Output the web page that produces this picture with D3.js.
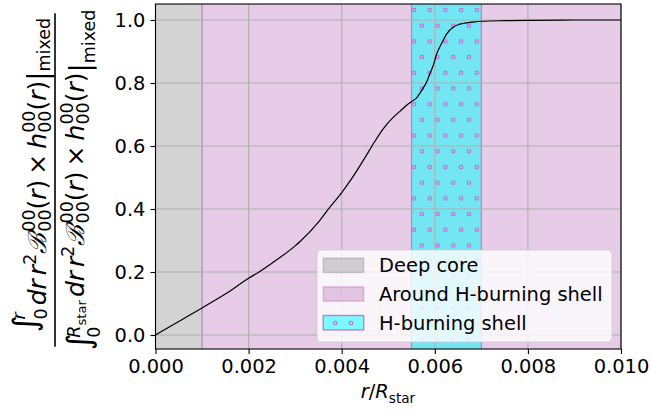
<!DOCTYPE html>
<html><head><meta charset="utf-8">
<script src="https://cdn.jsdelivr.net/npm/d3@7"></script>
<style>body{margin:0;background:#fff}svg{display:block}</style>
</head><body><svg id="c" width="651" height="414"></svg>
<script>
// ---- data ----
const rValues = [0,0.0005,0.001,0.0015,0.002,0.0022,0.0025,0.003,0.0031,0.0035,0.0037,0.004,0.0042,0.0045,0.0047,0.0049,0.0051,0.00525,0.0054,0.0055,0.00561,0.00572,0.00583,0.0059,0.00597,0.00604,0.0061,0.00615,0.00626,0.0064,0.0065,0.00661,0.0068,0.007,0.0075,0.008,0.009,0.010];
const fracValues = [0,0.043,0.086,0.130,0.180,0.198,0.228,0.283,0.296,0.358,0.397,0.452,0.493,0.563,0.612,0.656,0.690,0.710,0.730,0.741,0.753,0.777,0.805,0.832,0.857,0.892,0.912,0.927,0.957,0.978,0.985,0.989,0.993,0.996,0.998,0.999,1.0,1.0];
const xTicks = [0,0.002,0.004,0.006,0.008,0.010];
const xTickLabels = ["0.000","0.002","0.004","0.006","0.008","0.010"];
const yTicks = [0,0.2,0.4,0.6,0.8,1.0];
const yTickLabels = ["0.0","0.2","0.4","0.6","0.8","1.0"];
const regionNames = ["Deep core","Around H-burning shell","H-burning shell"];
const regionStart = [0,0.001,0.0055];
const regionEnd = [0.001,0.010,0.007];

const svg = d3.select("#c");
const FS = 19.44, FONT = "DejaVu Sans";
const L=155.5, R=621, T=4, B=349;
const x = d3.scaleLinear().domain([0,0.01]).range([L,R]);
const y = d3.scaleLinear().domain([-0.0444,1.0508]).range([B,T]);

const defs = svg.append("defs");
function dotPattern(id, ox, oy){
  const p = defs.append("pattern").attr("id",id).attr("patternUnits","userSpaceOnUse")
    .attr("x",ox-3.925).attr("y",oy-7.85).attr("width",15.7).attr("height",31.4);
  [[3.925,7.85],[11.775,23.55]].forEach(([cx,cy])=>p.append("circle").attr("cx",cx).attr("cy",cy).attr("r",1.7)
    .attr("fill","none").attr("stroke","#d05ccf").attr("stroke-width",1.1));
}
dotPattern("hatch",414,10);
dotPattern("hatchLeg",335.3,323);
defs.append("clipPath").attr("id","plot").append("rect").attr("x",L).attr("y",T).attr("width",R-L).attr("height",B-T);

const fills = [{c:"gray",o:0.35},{c:"purple",o:0.2},{c:"cyan",o:0.5}];
const pl = svg.append("g").attr("clip-path","url(#plot)");
regionNames.forEach((n,i)=>{
  const f = fills[i];
  pl.append("rect").attr("x",x(regionStart[i])).attr("y",T-2).attr("width",x(regionEnd[i])-x(regionStart[i])).attr("height",B-T+4)
    .attr("fill",f.c).attr("fill-opacity",f.o)
    .attr("stroke", i===2?"#c27ccb":f.c).attr("stroke-opacity", i===2?1:f.o).attr("stroke-width",1.2);
  if(i===2){
    pl.append("rect").attr("x",x(regionStart[i])+0.6).attr("y",T).attr("width",x(regionEnd[i])-x(regionStart[i])-1.2).attr("height",B-T)
      .attr("fill","url(#hatch)");
  }
});

// grid
const grid = svg.append("g").attr("stroke","#b0b0b0").attr("stroke-width",1.1);
xTicks.forEach(t=>grid.append("line").attr("x1",x(t)).attr("x2",x(t)).attr("y1",T).attr("y2",B));
yTicks.forEach(t=>grid.append("line").attr("x1",L).attr("x2",R).attr("y1",y(t)).attr("y2",y(t)));

// curve
const pts = rValues.map((r,i)=>[r,fracValues[i]]);
svg.append("path").datum(pts).attr("fill","none").attr("stroke","#000").attr("stroke-width",1.2)
  .attr("stroke-linejoin","round")
  .attr("d",d3.line().x(d=>x(d[0])).y(d=>y(d[1])).curve(d3.curveMonotoneX));

// axes
const xa = svg.append("g").attr("transform",`translate(0,${B})`).call(d3.axisBottom(x).tickValues(xTicks).tickFormat((d,i)=>xTickLabels[i]).tickSizeOuter(0).tickSize(5).tickPadding(5));
const ya = svg.append("g").attr("transform",`translate(${L},0)`).call(d3.axisLeft(y).tickValues(yTicks).tickFormat((d,i)=>yTickLabels[i]).tickSizeOuter(0).tickSize(5).tickPadding(5));
[xa,ya].forEach(a=>{a.select(".domain").remove();a.selectAll("line").attr("stroke","#000").attr("stroke-width",1.1);
  a.selectAll("text").attr("font-family",FONT).attr("font-size",FS).attr("fill","#000");});
svg.append("rect").attr("x",L).attr("y",T).attr("width",R-L).attr("height",B-T).attr("fill","none").attr("stroke","#000").attr("stroke-width",1.1);

// legend
const lg = svg.append("g");
lg.append("rect").attr("x",317).attr("y",250).attr("width",295).attr("height",92).attr("rx",4)
  .attr("fill","#fff").attr("fill-opacity",0.8).attr("stroke","#cccccc").attr("stroke-opacity",0.8);
regionNames.forEach((n,i)=>{
  const cy = 265.3 + i*28.7;
  const f = fills[i];
  lg.append("rect").attr("x",323.3).attr("y",cy-7.2).attr("width",40.4).attr("height",14.4)
    .attr("fill",f.c).attr("fill-opacity",f.o)
    .attr("stroke", i===2?"#c27ccb":f.c).attr("stroke-opacity", i===2?1:f.o).attr("stroke-width",1.4);
  if(i===2) lg.append("rect").attr("x",323.3).attr("y",cy-7.2).attr("width",40.4).attr("height",14.4).attr("fill","url(#hatchLeg)");
  lg.append("text").attr("x",379).attr("y",cy+6.8).attr("font-family",FONT).attr("font-size",FS).text(n);
});

// x label
const xl = svg.append("text").attr("y",398).attr("font-family",FONT).attr("font-size",FS).attr("text-anchor","middle").attr("x",388);
xl.append("tspan").attr("font-style","italic").text("r");
xl.append("tspan").text("/");
xl.append("tspan").attr("font-style","italic").text("R");
xl.append("tspan").attr("font-size",FS*0.7).attr("dy",5).text("star");

// y label (fraction), rotated
const FL = 25;
function buildExpr(g, items, size){
  let cx = 0;
  const sc = size*0.7;
  const mk = (t, opt={})=>g.append("text").attr("font-family",opt.fam||FONT).attr("font-size",opt.s||size)
      .attr("font-style",opt.it?"italic":"normal").attr("x",cx).attr("y",opt.dy||0).text(t);
  items.forEach(it=>{
    if(it.stack){
      const a = mk(it.stack[0],{s:sc,dy:it.sdy!=null?it.sdy:-size*0.45, it:it.sit});
      const b = mk(it.stack[1],{s:sc,dy:it.bdy!=null?it.bdy:size*0.2});
      cx += Math.max(a.node().getComputedTextLength(), b.node().getComputedTextLength()) + (it.pad||0);
    } else {
      const e = mk(it.t, it);
      cx += e.node().getComputedTextLength()*(it.adv==null?1:it.adv) + (it.pad||0);
    }
  });
  return cx;
}
const ylab = svg.append("g").attr("transform","translate(0,180) rotate(-90)");
const sc = FL*0.7;
function tail(mdy){ return [
  {t:"dr",it:true,pad:4},{t:"r",it:true},{t:"2",s:sc,dy:-FL*0.42},
  {t:"ℬ",it:true,fam:"DejaVu Serif",pad:1},{stack:["00","00"]},
  {t:"("},{t:"r",it:true},{t:")",pad:5},{t:"×",pad:5},
  {t:"h",it:true},{stack:["00","00"]},{t:"("},{t:"r",it:true},{t:")"},
  {t:"|",s:FL*1.1,dy:mdy*0.5},{t:"mixed",s:sc,dy:mdy}
];}
const num = ylab.append("g");
const numItems = [{t:"∫",s:FL*1.3,dy:-10,adv:0.75},{stack:["r","0"],sit:true,sdy:-21,bdy:1,pad:3}].concat(tail(4));
const wN = buildExpr(num, numItems, FL);
num.attr("transform",`translate(${-wN/2+5},46)`);

const den = ylab.append("g");
const denItems = [{t:"∫",s:FL*1.3,dy:6,adv:0.75},{t:"0",s:sc,dy:16,adv:0},
  {t:"R",it:true,s:sc,dy:-4},{t:"star",s:sc*0.75,dy:2,pad:3}].concat(tail(11));
const wD = buildExpr(den, denItems, FL);
den.attr("transform",`translate(${-wD/2},84)`);
ylab.append("line").attr("x1",-166.7).attr("x2",166.7).attr("y1",55).attr("y2",55).attr("stroke","#000").attr("stroke-width",1.6);
</script></body></html>
